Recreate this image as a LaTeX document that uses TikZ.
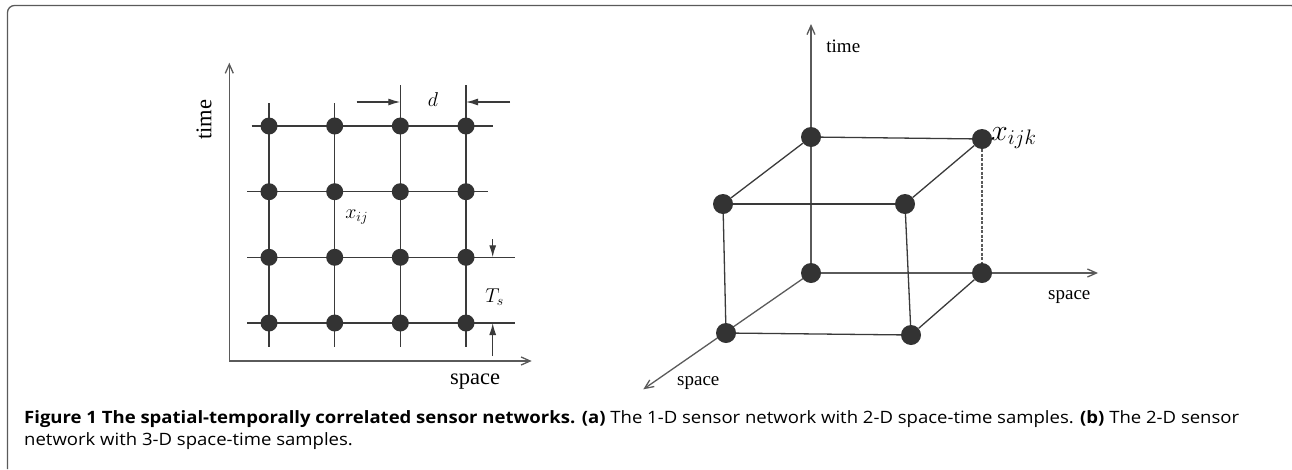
\RequirePackage{fix-cm}
\documentclass[tikz,border=0pt]{standalone}
\usepackage{fontspec}
\setmainfont{Liberation Serif}
\newfontfamily\capfont[FakeStretch=1.09]{Open Sans}
\usetikzlibrary{arrows.meta,backgrounds}

\definecolor{dotgray}{HTML}{333333}
\definecolor{linegray}{HTML}{3A3A3A}
\definecolor{axisgray}{HTML}{5A5A5A}
\definecolor{framegray}{HTML}{5A5A5A}

\begin{document}
\begin{tikzpicture}[x=1pt,y=-1pt,
    dot/.style={circle,fill=dotgray,inner sep=0pt,minimum size=17pt},
    bigdot/.style={circle,fill=dotgray,inner sep=0pt,minimum size=20pt},
    gridline/.style={draw=linegray,line width=1.3pt},
    edge/.style={draw=linegray,line width=1.3pt},
    axis/.style={draw=axisgray,line width=1.3pt,-{Straight Barb[length=9pt,width=8pt]}},
    dim/.style={draw=linegray,line width=1.3pt,-{Latex[length=12pt,width=7pt]}},
    lblL/.style={font=\fontsize{22.5}{26}\selectfont},
    lblR/.style={font=\fontsize{19}{23}\selectfont},
    mathL/.style={font=\fontsize{20}{24}\selectfont},
    mathR/.style={font=\fontsize{30}{36}\selectfont},
    capline/.style={anchor=base west,inner sep=0pt,font=\capfont\fontsize{17}{21.5}\selectfont}]
    \useasboundingbox (0,0) rectangle (1292,469);
    \draw[framegray,line width=1.3pt,rounded corners=7pt] (7.5,469) -- (7.5,5.5) -- (1298,5.5) -- (1298,469);

    % (a) space-time grid
    \node[dot] (p11) at (269,126) {};
    \node[dot] (p12) at (334.7,126) {};
    \node[dot] (p13) at (400.3,126) {};
    \node[dot] (p14) at (466,126) {};
    \node[dot] (p21) at (269,191.7) {};
    \node[dot] (p22) at (334.7,191.7) {};
    \node[dot] (p23) at (400.3,191.7) {};
    \node[dot] (p24) at (466,191.7) {};
    \node[dot] (p31) at (269,257.3) {};
    \node[dot] (p32) at (334.7,257.3) {};
    \node[dot] (p33) at (400.3,257.3) {};
    \node[dot] (p34) at (466,257.3) {};
    \node[dot] (p41) at (269,323) {};
    \node[dot] (p42) at (334.7,323) {};
    \node[dot] (p43) at (400.3,323) {};
    \node[dot] (p44) at (466,323) {};
    \begin{scope}[on background layer]
        \draw[gridline,shorten <=-23pt,shorten >=-23.7pt] (p11.center) -- (p41.center);
        \draw[gridline,shorten <=-23pt,shorten >=-23.7pt] (p12.center) -- (p42.center);
        \draw[gridline,shorten <=-41pt,shorten >=-23.7pt] (p13.center) -- (p43.center);
        \draw[gridline,shorten <=-41pt,shorten >=-23.7pt] (p14.center) -- (p44.center);
        \draw[gridline,shorten <=-17.3pt,shorten >=-26.7pt] (p11.center) -- (p14.center);
        \draw[gridline,shorten <=-21.7pt,shorten >=-22.3pt] (p21.center) -- (p24.center);
        \draw[gridline,shorten <=-21.7pt,shorten >=-49pt] (p31.center) -- (p34.center);
        \draw[gridline,shorten <=-21.7pt,shorten >=-49pt] (p41.center) -- (p44.center);
    \end{scope}
    \coordinate (origL) at (229.3,361);
    \coordinate (timeL) at (229.3,62.7);
    \coordinate (spaceL) at (531.7,361);
    \draw[axis] (origL) -- (timeL);
    \draw[axis] (origL) -- (spaceL);
    \coordinate (dA) at (356.7,102);
    \coordinate (dB) at (400.3,102);
    \coordinate (dC) at (510,102);
    \coordinate (dD) at (466,102);
    \draw[dim] (dA) -- (dB);
    \draw[dim] (dC) -- (dD);
    \coordinate (tA) at (492.7,239);
    \coordinate (tB) at (492.7,257.3);
    \coordinate (tC) at (492.7,356);
    \coordinate (tD) at (492.7,323);
    \draw[dim] (tA) -- (tB);
    \draw[dim] (tC) -- (tD);
    \node[lblL,rotate=90] (timeLlbl) at (204,120) {time};
    \node[lblL] (spaceLlbl) at (475,381.7) {space};
    \node[mathL] (xij) at (356.7,216.7) {$x_{ij}$};
    \node[mathL] (dlbl) at (433,100) {$d$};
    \node[mathL] (tslbl) at (494.7,296.7) {$T_s$};

    % (b) space-time cube
    \node[bigdot] (btl) at (811,137) {};
    \node[bigdot] (btr) at (982,139) {};
    \node[bigdot] (ftl) at (723,204) {};
    \node[bigdot] (ftr) at (905,204) {};
    \node[bigdot] (bbl) at (811,273) {};
    \node[bigdot] (bbr) at (982,273) {};
    \node[bigdot] (fbl) at (726,333) {};
    \node[bigdot] (fbr) at (911,335) {};
    \coordinate (timeR) at (811,24);
    \coordinate (spaceR) at (1098,273);
    \coordinate (spaceD) at (643.3,389.3);
    \begin{scope}[on background layer]
        \draw[axis] (bbl.center) -- (timeR);
        \draw[axis] (bbl.center) -- (spaceR);
        \draw[axis] (bbl.center) -- (spaceD);
        \draw[edge] (btl) -- (btr);
        \draw[edge] (btl) -- (ftl);
        \draw[edge] (ftl) -- (ftr);
        \draw[edge] (ftr) -- (btr);
        \draw[edge] (ftl) -- (fbl);
        \draw[edge] (ftr) -- (fbr);
        \draw[edge] (fbl) -- (fbr);
        \draw[edge] (fbr) -- (bbr);
        \draw[edge,draw=axisgray,dash pattern=on 3pt off 1.5pt] (btr) -- (bbr);
    \end{scope}
    \node[lblR] (timeRlbl) at (843.3,46) {time};
    \node[lblR] (spaceRlbl) at (1069.3,296.7) {space};
    \node[lblR] (spaceDlbl) at (698.3,382.7) {space};
    \node[mathR,anchor=west,inner sep=0pt] (xijk) at (991,138) {$x_{ijk}$};

    % caption
    \node[capline] (cap1) at (24,423.5) {\textbf{Figure 1 The spatial-temporally correlated sensor networks. (a)} The 1-D sensor network with 2-D space-time samples. \textbf{(b)} The 2-D sensor};
    \node[capline] (cap2) at ([yshift=-21.5pt]cap1.base west) {network with 3-D space-time samples.};
\end{tikzpicture}
\end{document}
